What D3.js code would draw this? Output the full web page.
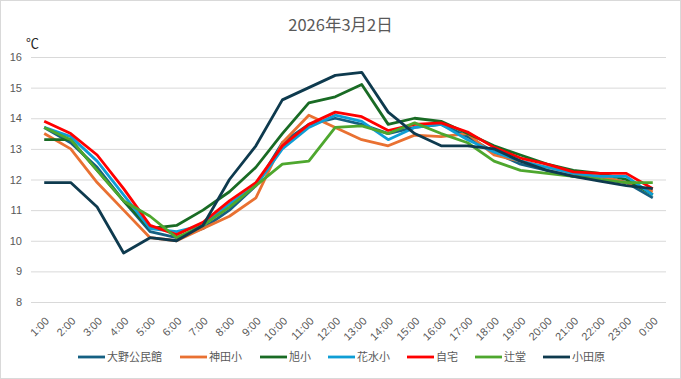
<!DOCTYPE html>
<html><head><meta charset="utf-8">
<script src="https://cdn.jsdelivr.net/npm/d3@7"></script>
<style>
html,body{margin:0;padding:0;background:#fff;}
svg{display:block;font-family:"Noto Sans CJK JP","Noto Sans",sans-serif;}
</style></head>
<body><div id="chart"></div>
<script>
const categories = ["1:00","2:00","3:00","4:00","5:00","6:00","7:00","8:00","9:00","10:00","11:00","12:00","13:00","14:00","15:00","16:00","17:00","18:00","19:00","20:00","21:00","22:00","23:00","0:00"];
const seriesNames = ["大野公民館","神田小","旭小","花水小","自宅","辻堂","小田原"];
const seriesColors = ["#156082","#E97132","#196B24","#0F9ED5","#FF0000","#4EA72E","#0E3A4E"];
const ohno    = [13.7,13.2,12.4,11.3,10.3,10.1,10.4,11.0,11.8,13.2,13.8,14.0,13.8,13.5,13.7,13.8,13.4,12.9,12.5,12.3,12.1,12.1,11.9,11.4];
const kanda   = [13.5,13.0,11.9,11.0,10.1,10.0,10.4,10.8,11.4,13.2,14.1,13.7,13.3,13.1,13.45,13.4,13.5,12.8,12.6,12.4,12.2,12.1,11.9,11.6];
const asahi   = [13.3,13.3,12.3,11.3,10.4,10.5,11.0,11.6,12.4,13.5,14.5,14.7,15.1,13.8,14.0,13.9,13.5,13.1,12.8,12.5,12.3,12.2,12.0,11.5];
const hanamizu= [13.7,13.4,12.6,11.5,10.4,10.3,10.5,11.2,11.8,13.0,13.7,14.1,13.9,13.3,13.7,13.8,13.3,12.9,12.6,12.4,12.2,12.1,12.1,11.5];
const home    = [13.9,13.5,12.8,11.7,10.5,10.2,10.6,11.3,11.9,13.1,13.8,14.2,14.05,13.6,13.8,13.85,13.55,13.05,12.7,12.5,12.25,12.2,12.2,11.7];
const tsujido = [13.7,13.3,12.3,11.3,10.8,10.1,10.5,11.1,11.8,12.5,12.6,13.7,13.75,13.5,13.85,13.5,13.2,12.6,12.3,12.2,12.1,12.0,11.9,11.9];
const odawara = [11.9,11.9,11.1,9.6,10.1,10.0,10.5,12.0,13.1,14.6,15.0,15.4,15.5,14.2,13.5,13.1,13.1,13.0,12.6,12.3,12.1,11.95,11.8,11.7];
const seriesValues = [ohno,kanda,asahi,hanamizu,home,tsujido,odawara];
const yTicks = [8,9,10,11,12,13,14,15,16];
const titleText = "2026年3月2日";
const unitText = "℃";

const W = 681, H = 379;
const plot = {left:31, right:666, top:57, bottom:302};
const svg = d3.select("#chart").append("svg").attr("width",W).attr("height",H);

svg.append("rect").attr("x",0.5).attr("y",0.5).attr("width",W-1).attr("height",H-1)
  .attr("fill","#fff").attr("stroke","#d9d9d9");

const x = d3.scaleBand().domain(categories).range([plot.left, plot.right]);
const y = d3.scaleLinear().domain([8,16]).range([plot.bottom, plot.top]);

// gridlines
svg.append("g").selectAll("line").data(yTicks).join("line")
  .attr("x1",plot.left).attr("x2",plot.right)
  .attr("y1",d=>y(d)+0.5).attr("y2",d=>y(d)+0.5)
  .attr("stroke","#d9d9d9").attr("stroke-width",1);

// y axis labels
const yAxis = d3.axisLeft(y).tickValues(yTicks).tickSize(0).tickPadding(0);
const gy = svg.append("g").attr("transform",`translate(${plot.left-9},0)`).call(yAxis);
gy.select(".domain").remove();
gy.selectAll("text").attr("fill","#595959").style("font-size","11px");

// x axis labels
const xAxis = d3.axisBottom(x).tickSize(0).tickPadding(0);
const gx = svg.append("g").attr("transform",`translate(0,${plot.bottom})`).call(xAxis);
gx.select(".domain").remove();
gx.selectAll(".tick text")
  .attr("fill","#595959").style("font-size","11px")
  .attr("text-anchor","end")
  .attr("x",0).attr("y",0).attr("dy","0.35em")
  .attr("transform","translate(3,17) rotate(-45)");

// lines
const line = d3.line().x((d,i)=>x(categories[i])+x.bandwidth()/2).y(d=>y(d));
svg.append("g").selectAll("path").data(seriesValues).join("path")
  .attr("d",d=>line(d)).attr("fill","none")
  .attr("stroke",(d,i)=>seriesColors[i]).attr("stroke-width",2.8)
  .attr("stroke-linejoin","round").attr("stroke-linecap","butt");

// title
svg.append("text").attr("x",W/2).attr("y",31).attr("text-anchor","middle")
  .attr("fill","#595959").style("font-size","16.5px").text(titleText);
svg.append("text").attr("x",26).attr("y",48)
  .attr("fill","#262626").style("font-size","13px").text(unitText);

// legend
const legendX = [78,180,260,328,407,475,543];
const lg = svg.append("g").selectAll("g").data(seriesNames).join("g")
  .attr("transform",(d,i)=>`translate(${legendX[i]},357)`);
lg.append("line").attr("x1",0).attr("x2",27).attr("y1",0).attr("y2",0)
  .attr("stroke",(d,i)=>seriesColors[i]).attr("stroke-width",2.8);
lg.append("text").attr("x",29).attr("y",0).attr("dy","0.35em")
  .attr("fill","#595959").style("font-size","11px").text(d=>d);
</script></body></html>
